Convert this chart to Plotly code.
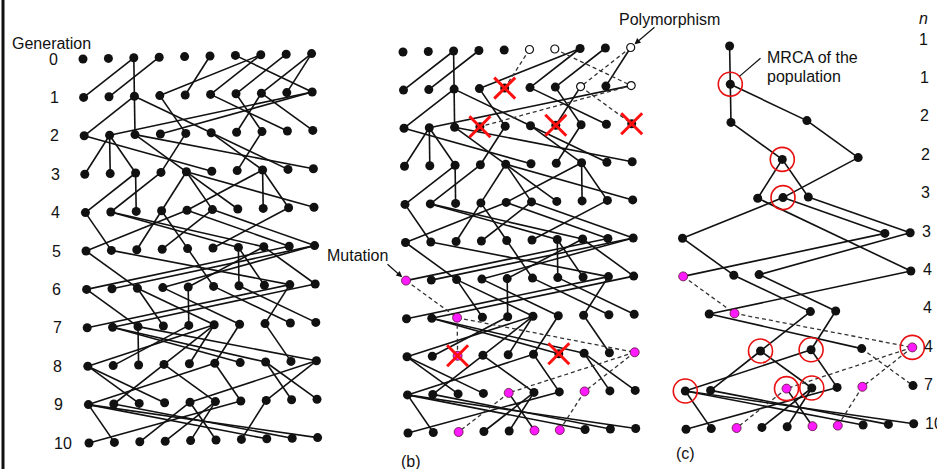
import plotly.graph_objects as go

# ---------------- data ----------------
generations = list(range(11))
n_cols = 10
gen_labels = [str(g) for g in generations]

# parent column (in generation g-1) of each individual (column 0..9) of generation g
parents = {
    1: [2, 3, 2, 7, 5, 7, 8, 9, 9, 6],
    2: [2, 9, 2, 9, 3, 2, 7, 6, 5, 7],
    3: [1, 1, 1, 4, 2, 0, 7, 5, 5, 2],
    4: [2, 3, 2, 4, 7, 4, 4, 7, 7, 4],
    5: [4, 0, 3, 5, 3, 8, 1, 1, 4, 5],
    6: [8, 9, 0, 9, 7, 4, 6, 6, 1, 7],
    7: [8, 9, 0, 2, 4, 2, 3, 8, 5, 6],
    8: [5, 4, 2, 5, 5, 6, 1, 1, 7, 2],
    9: [5, 3, 0, 0, 9, 3, 5, 9, 7, 7],
    10: [6, 0, 4, 5, 5, 4, 7, 0, 1, 0],
}

# panel (b): allele states
open_b = [(0, 5), (0, 6), (0, 9), (1, 7), (1, 9)]
mutant_b = [(6, 0), (7, 2), (8, 2), (8, 9), (9, 4), (9, 7), (10, 2), (10, 5), (10, 6)]
extinct_b = [(1, 4), (2, 3), (2, 6), (2, 9), (8, 2), (8, 6)]
dashed_b = [(1, 4), (1, 7), (1, 9), (2, 3), (2, 9), (7, 2), (8, 2), (8, 9),
            (9, 4), (9, 7), (10, 2), (10, 6)]

# panel (c): lineages ancestral to generation 10
c_nodes = {
    0: [2], 1: [2], 2: [2, 5], 3: [4, 7], 4: [3, 4, 5], 5: [0, 8, 9],
    6: [0, 2, 3, 9], 7: [1, 2, 5, 6], 8: [3, 5, 7, 9],
    9: [0, 1, 4, 5, 6, 7, 9], 10: list(range(10)),
}
c_parent_override = {(6, 9): (4, 3)}
mutant_c = [(6, 0), (7, 2), (8, 9), (9, 4), (9, 7), (10, 2), (10, 5), (10, 6)]
dashed_c = [(7, 2), (8, 9), (9, 4), (9, 7), (9, 9), (10, 2), (10, 6)]
coalescent_c = [(1, 2), (3, 4), (4, 4), (8, 3), (8, 5), (8, 9), (9, 0), (9, 4), (9, 5)]

# ---------------- geometry (layout only) ----------------
GEOM = {
    "a": dict(x0=83, dx=25.4, shx=0.6, y0=59, dy=38.4, shy=-0.6),
    "b": dict(x0=403, dx=25.3, shx=0.5, y0=52, dy=38.1, shy=-0.5),
    "c": dict(x0=679, dx=25.3, shx=0.7, y0=47.2, dy=38.2, shy=-0.6),
}


def pos(panel, g, c):
    p = GEOM[panel]
    return p["x0"] + c * p["dx"] + g * p["shx"], p["y0"] + g * p["dy"] + c * p["shy"]


solid_x, solid_y, dash_x, dash_y = [], [], [], []


def add_edge(panel, pg, pc, g, c, dashed):
    x1, y1 = pos(panel, pg, pc)
    x2, y2 = pos(panel, g, c)
    if dashed:
        dash_x.extend([x1, x2, None]); dash_y.extend([y1, y2, None])
    else:
        solid_x.extend([x1, x2, None]); solid_y.extend([y1, y2, None])


for g in generations[1:]:
    for c, pc in enumerate(parents[g]):
        add_edge("a", g - 1, pc, g, c, False)
        add_edge("b", g - 1, pc, g, c, (g, c) in dashed_b)
    for c in c_nodes[g]:
        if (g, c) in c_parent_override:
            pg, pc = c_parent_override[(g, c)]
        else:
            pg, pc = g - 1, parents[g][c]
        add_edge("c", pg, pc, g, c, (g, c) in dashed_c)

fig = go.Figure()
fig.add_trace(go.Scatter(x=solid_x, y=solid_y, mode="lines",
                         line=dict(color="#111", width=1.6), hoverinfo="skip"))
fig.add_trace(go.Scatter(x=dash_x, y=dash_y, mode="lines",
                         line=dict(color="#333", width=1.3, dash="4px,3px"), hoverinfo="skip"))

black_x, black_y, open_x, open_y, pink_x, pink_y = [], [], [], [], [], []
for g in generations:
    for c in range(n_cols):
        x, y = pos("a", g, c); black_x.append(x); black_y.append(y)
        x, y = pos("b", g, c)
        if (g, c) in open_b:
            open_x.append(x); open_y.append(y)
        elif (g, c) in mutant_b:
            pink_x.append(x); pink_y.append(y)
        else:
            black_x.append(x); black_y.append(y)
    for c in c_nodes[g]:
        x, y = pos("c", g, c)
        if (g, c) in mutant_c:
            pink_x.append(x); pink_y.append(y)
        else:
            black_x.append(x); black_y.append(y)

fig.add_trace(go.Scatter(x=black_x, y=black_y, mode="markers",
                         marker=dict(size=9, color="#111", line=dict(width=0))))
fig.add_trace(go.Scatter(x=open_x, y=open_y, mode="markers",
                         marker=dict(size=8, color="white", line=dict(color="#111", width=1.2))))
fig.add_trace(go.Scatter(x=pink_x, y=pink_y, mode="markers",
                         marker=dict(size=9, color="#ff1aff", line=dict(color="#5a1030", width=0.8))))

xx = [pos("b", g, c) for g, c in extinct_b]
fig.add_trace(go.Scatter(x=[p[0] for p in xx], y=[p[1] for p in xx], mode="markers",
                         marker=dict(symbol="x-thin", size=21, line=dict(color="#ff1010", width=3))))
rc = [pos("c", g, c) for g, c in coalescent_c]
fig.add_trace(go.Scatter(x=[p[0] for p in rc], y=[p[1] for p in rc], mode="markers",
                         marker=dict(symbol="circle-open", size=24, color="#e81010",
                                     line=dict(width=1.6))))

FONT = dict(family="Liberation Sans, Arial, sans-serif", size=16, color="#111")
ann = []


def text(x, y, s, xanchor="center", **kw):
    ann.append(dict(x=x, y=y, xref="x", yref="y", text=s, showarrow=False,
                    xanchor=xanchor, yanchor="middle", font=FONT, **kw))


text(10, 43, "Generation", xanchor="left")
for g, lab in zip(generations, gen_labels):
    text(47 + g * 0.5, 59 + g * 38.4, lab, xanchor="left")

text(917, 18, "<i>n</i>", xanchor="left")
for g in generations:
    text(917 + g * 0.6, 39 + g * 38.4, str(len(c_nodes[g])), xanchor="left")

text(411, 461, "(b)")
text(685, 453, "(c)")
text(325, 255, "Mutation", xanchor="left")
text(617, 19, "Polymorphism", xanchor="left")
text(765, 57, "MRCA of the", xanchor="left")
text(765, 76, "population", xanchor="left")

hx, hy = pos("b", 6, 0)
ann.append(dict(x=hx, y=hy, xref="x", yref="y", ax=386, ay=263, axref="x", ayref="y",
                text="", showarrow=True, arrowhead=2, arrowsize=1, arrowwidth=1.2,
                arrowcolor="#111", standoff=5))
hx, hy = pos("b", 0, 9)
ann.append(dict(x=hx, y=hy, xref="x", yref="y", ax=656, ay=26, axref="x", ayref="y",
                text="", showarrow=True, arrowhead=2, arrowsize=1, arrowwidth=1.2,
                arrowcolor="#111", standoff=5))
hx, hy = pos("c", 1, 2)
ann.append(dict(x=hx, y=hy, xref="x", yref="y", ax=762, ay=57, axref="x", ayref="y",
                text="", showarrow=True, arrowhead=0, arrowwidth=1.2,
                arrowcolor="#111", standoff=12))

fig.update_layout(
    width=937, height=469, margin=dict(l=0, r=0, t=0, b=0),
    paper_bgcolor="white", plot_bgcolor="white", showlegend=False,
    annotations=ann,
    xaxis=dict(range=[0, 937], visible=False, fixedrange=True),
    yaxis=dict(range=[469, 0], visible=False, fixedrange=True),
    shapes=[dict(type="line", xref="x", yref="y", x0=3, x1=3, y0=0, y1=469,
                 line=dict(color="#111", width=3))],
)
fig.write_html("out.html", config={"displayModeBar": False},
               post_script="document.body.style.margin='0';document.body.style.overflow='hidden';")
